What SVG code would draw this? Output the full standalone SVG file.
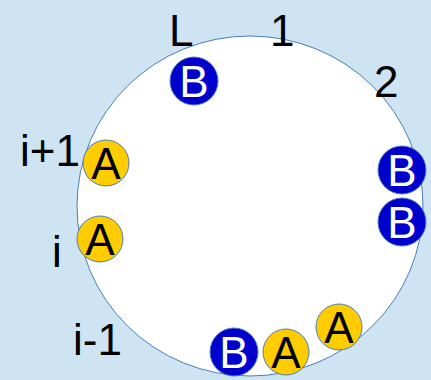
<svg xmlns="http://www.w3.org/2000/svg" width="431" height="380" viewBox="0 0 431 380">
<style>
text{font-family:"Liberation Sans",Arial,sans-serif;font-size:44px}
.lbl{fill:#000}
.a circle{fill:#ffcc00;stroke:#4a7ebb;stroke-width:1}
.b circle{fill:#0000cc;stroke:#4a7ebb;stroke-width:1}
.a text{fill:#000;text-anchor:middle}
.b text{fill:#fff;text-anchor:middle}
</style>
<rect width="431" height="380" fill="#cfe4f2"/>
<g id="ring">
<ellipse cx="250" cy="206" rx="173" ry="170" fill="#fff" stroke="#4a7ebb" stroke-width="1"/>
</g>
<g id="labels" class="lbl">
<text x="169" y="46">L</text>
<text x="270" y="46">1</text>
<text x="374" y="97">2</text>
<text x="20" y="166">i+1</text>
<text x="52" y="267">i</text>
<text x="73" y="355">i-1</text>
</g>
<g id="connectors"></g>
<g id="nodeB1" class="b"><circle cx="194" cy="81" r="24"/><text x="194" y="97">B</text></g>
<g id="nodeA1" class="a"><circle cx="106" cy="163" r="23"/><text x="106" y="179">A</text></g>
<g id="nodeA2" class="a"><circle cx="100" cy="239" r="23"/><text x="100" y="255">A</text></g>
<g id="nodeB2" class="b"><circle cx="402" cy="170" r="24"/><text x="402" y="186">B</text></g>
<g id="nodeB3" class="b"><circle cx="402" cy="222" r="24"/><text x="402" y="238">B</text></g>
<g id="nodeB4" class="b"><circle cx="234" cy="352" r="24"/><text x="234" y="368">B</text></g>
<g id="nodeA3" class="a"><circle cx="286" cy="352" r="23"/><text x="286" y="368">A</text></g>
<g id="nodeA4" class="a"><circle cx="339" cy="327" r="23"/><text x="339" y="343">A</text></g>
</svg>
